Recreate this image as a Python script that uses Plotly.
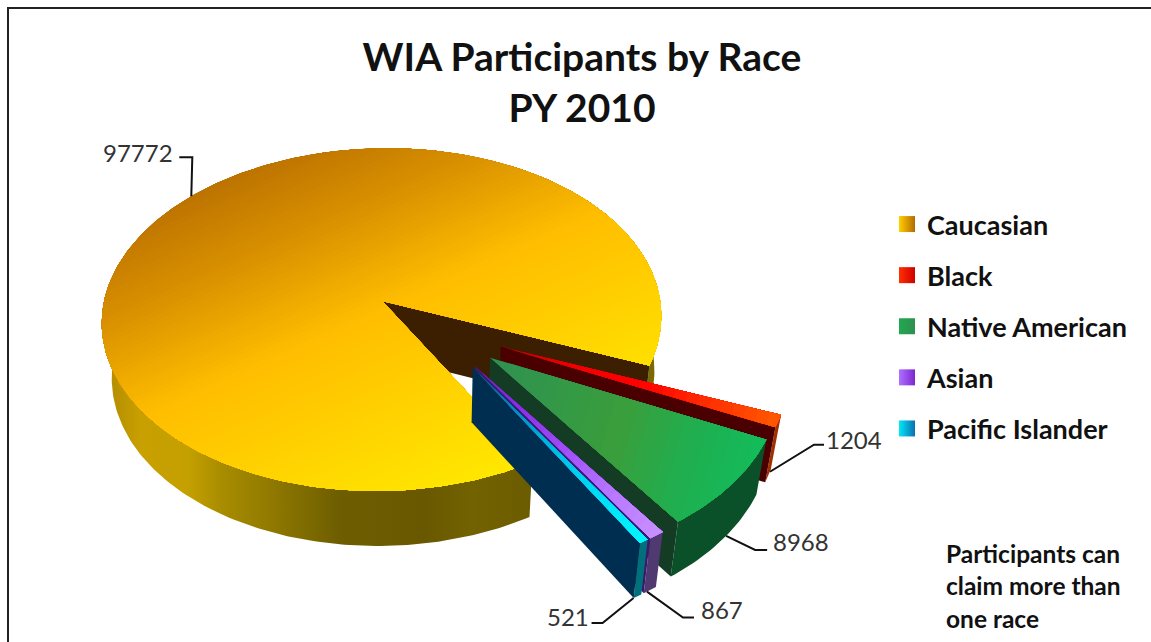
import math
import plotly.graph_objects as go

# ---- data ----
categories = ["Caucasian", "Black", "Native American", "Asian", "Pacific Islander"]
values = [97772, 1204, 8968, 867, 521]
title_lines = ["WIA Participants by Race", "PY 2010"]
note_lines = ["Participants can", "claim more than", "one race"]

# ---- appearance ----
W, H = 1151, 642
FONT = "Lato"
# projection of the tilted pie onto the page
X0, Y0, SX, SY, K = 435.0, 329.0, 283.0, 175.5, 0.11
DEPTH, TAPER = 55.0, 0.97
EXPLODE = 0.25
FIRST_ANGLE = 21.4   # where the second category starts, degrees clockwise from east
ORDER = [1, 2, 3, 4, 0]

top_stops = {
    0: ["#B46A00", "#D89000", "#FFBE00", "#FFD400", "#FFEA00"],
    1: ["#B00000", "#F00000", "#FF0000", "#FF3000", "#FF5A00"],
    2: ["#2F9050", "#339848", "#3A9E3A", "#20AE50", "#12BC5A"],
    3: ["#6A20C0", "#8A30E8", "#A050F8", "#B878FF", "#C890FF"],
    4: ["#0A5A90", "#0090C8", "#00C0E8", "#00E0F8", "#00F8FF"],
}
end_wall = {0: "#3C1E00", 1: "#4A0000", 2: "#143C24", 3: "#3A1A70", 4: "#002E50"}
outer_wall = {1: "#A03000", 2: "#0A5028", 3: "#503870", 4: "#00707A"}
# angle on the rim where a leader starts, elbow offset, tail offset, label offset from tail
leaders = {
    0: (221.5, (1, -39), (-13, 0), (-4, -5), "right"),
    1: (22.0, (44, -27), (10, 0), (0, -5), "left"),
    2: (39.0, (29, 14), (12, 0), (4, -8), "left"),
    3: (57.0, (36, 26), (11, 0), (5, -8), "left"),
    4: (59.5, (-31, 25), (-11, 0), (-1, -6), "right"),
}


def project(u, v, down=False):
    w = 1 - K * v
    x = X0 + SX * u / w
    y = Y0 + SY * v / w
    if down:
        x = X0 + (x - X0) * TAPER
        y = y + DEPTH
    return x, y


def hex_rgb(c):
    return tuple(int(c[i:i + 2], 16) for i in (1, 3, 5))


def mix(stops, t):
    t = max(0.0, min(1.0, t)) * (len(stops) - 1)
    i = min(int(t), len(stops) - 2)
    a, b = hex_rgb(stops[i]), hex_rgb(stops[i + 1])
    f = t - i
    return "rgb(%d,%d,%d)" % tuple(round(a[j] + (b[j] - a[j]) * f) for j in range(3))


def clip_ge(poly, ax, ay, d):
    out = []
    n = len(poly)
    for i in range(n):
        p, q = poly[i], poly[(i + 1) % n]
        dp = p[0] * ax + p[1] * ay - d
        dq = q[0] * ax + q[1] * ay - d
        if dp >= 0:
            out.append(p)
        if (dp >= 0) != (dq >= 0):
            s = dp / (dp - dq)
            out.append((p[0] + (q[0] - p[0]) * s, p[1] + (q[1] - p[1]) * s))
    return out


fig = go.Figure()


def add_pieces(pieces, color=None, gradient=None):
    xs, ys = [], []
    for poly in pieces:
        xs += [p[0] for p in poly] + [poly[0][0], None]
        ys += [p[1] for p in poly] + [poly[0][1], None]
    kw = dict(x=xs[:-1], y=ys[:-1], mode="lines", fill="toself", line=dict(width=0),
              hoverinfo="skip", showlegend=False)
    if gradient:
        kw["fillgradient"] = gradient
    else:
        kw["fillcolor"] = color
    fig.add_trace(go.Scatter(**kw))


def add_poly(poly, color=None, gradient=None):
    add_pieces([poly], color, gradient)


def add_banded(polys, stops, ax, ay, d0, d1, n):
    for k in range(n):
        d = d0 + (d1 - d0) * k / n
        parts = [clip_ge(poly, ax, ay, d) if k else poly for poly in polys]
        parts = [part for part in parts if len(part) >= 3]
        if parts:
            add_pieces(parts, color=mix(stops, (k + 0.5) / n))


total = sum(values)
spans = {i: values[i] / total * 360 for i in range(len(values))}
start = {}
a = FIRST_ANGLE
for i in ORDER:
    start[i] = a
    a += spans[i]


def world(i, deg, r=1.0):
    mid = math.radians(start[i] + spans[i] / 2)
    t = math.radians(deg)
    return EXPLODE * math.cos(mid) + r * math.cos(t), EXPLODE * math.sin(mid) + r * math.sin(t)


def arc(i, d0, d1, down=False, step=1.0):
    n = max(2, int(abs(d1 - d0) / step) + 1)
    return [project(*world(i, d0 + (d1 - d0) * k / n), down) for k in range(n + 1)]


def apex(i, down=False):
    return project(*world(i, 0, 0.0), down)


# main slice: outer walls, cut wall, top
i = 0
s, e = start[i], start[i] + spans[i]
wall_left = arc(i, s, 182) + arc(i, 182, s, True)
add_poly(wall_left, gradient=dict(type="horizontal", start=102, stop=532, colorscale=[
    [0.0, "#B08800"], [0.09, "#C8A000"], [0.2, "#C4A000"], [0.28, "#A88C00"],
    [0.4, "#8E7800"], [0.55, "#6E5E00"], [0.75, "#6A5800"], [0.86, "#736200"], [1.0, "#6B5C00"]]))
wall_right = arc(i, 352, e) + arc(i, e, 352, True)
add_poly(wall_right, color="#7A6A00")
add_poly([apex(i), project(*world(i, e)), project(*world(i, e), True), apex(i, True)], color=end_wall[i])
third = spans[i] / 3
sectors = [[apex(i)] + arc(i, s + k * third - (1 if k else 0), s + (k + 1) * third) for k in range(3)]
add_banded(sectors, top_stops[i], 0.41, 0.91, 230, 650, 90)

# exploded slices, far to near
for i in [1, 2, 3, 4]:
    s, e = start[i], start[i] + spans[i]
    add_poly(arc(i, s, e) + arc(i, e, s, True), color=outer_wall[i])
    add_poly([apex(i), project(*world(i, e)), project(*world(i, e), True), apex(i, True)], color=end_wall[i])
    ax_, ay_ = apex(i)
    c1 = project(*world(i, s))
    ux, uy = c1[0] - ax_, c1[1] - ay_
    L = math.hypot(ux, uy)
    ux, uy = ux / L, uy / L
    d0 = ax_ * ux + ay_ * uy
    add_banded([[apex(i)] + arc(i, s, e, step=0.5)], top_stops[i], ux, uy, d0, d0 + L, 24)

# leader lines and value labels
for i, (deg, elbow, tail_off, text_off, anchor) in leaders.items():
    p = project(*world(i, deg), i != 0)
    el = (p[0] + elbow[0], p[1] + elbow[1])
    tail = (el[0] + tail_off[0], el[1] + tail_off[1])
    fig.add_trace(go.Scatter(x=[p[0], el[0], tail[0]], y=[p[1], el[1], tail[1]], mode="lines",
                             line=dict(color="#111111", width=2), hoverinfo="skip", showlegend=False))
    fig.add_annotation(x=tail[0] + text_off[0], y=tail[1] + text_off[1], text=str(values[i]), showarrow=False,
                       xanchor=anchor, yanchor="middle",
                       font=dict(family=FONT, size=24, color="#333333"))

# legend
legend_fill = {0: ("#FFD000", "#B46A00"), 1: ("#FF3000", "#D00000"), 2: ("#20A850", "#2F9050"),
               3: ("#B070FF", "#7A28D0"), 4: ("#00E8F8", "#0A70B0")}
for i, name in enumerate(categories):
    c1, c2 = legend_fill[i]
    fig.add_trace(go.Scatter(x=[None], y=[None], mode="markers", name=name, legendgroup=name,
                             marker=dict(symbol="square", size=16, color=c1,
                                         gradient=dict(type="horizontal", color=c2), line=dict(width=0))))

# notes
for k, line in enumerate(note_lines):
    fig.add_annotation(x=944, y=553 + k * 32.5, text=line, showarrow=False, xanchor="left", yanchor="middle",
                       font=dict(family=FONT, size=24.5, color="#111111", weight="bold"))

# chart frame
fig.add_shape(type="rect", xref="x", yref="y", x0=8, y0=8, x1=1200, y1=700,
              line=dict(color="#222222", width=2), layer="below")

fig.update_layout(
    width=W, height=H, autosize=False,
    margin=dict(l=0, r=0, t=0, b=0),
    paper_bgcolor="white", plot_bgcolor="white",
    title=dict(text="<br>".join(title_lines), x=582 / W, xanchor="center", y=1 - 71 / H, yanchor="top",
               font=dict(family=FONT, size=39, color="#111111", weight="bold")),
    xaxis=dict(range=[0, W], visible=False, fixedrange=True),
    yaxis=dict(range=[H, 0], visible=False, fixedrange=True),
    legend=dict(x=887 / W, y=1 - 200 / H, xanchor="left", yanchor="top", tracegroupgap=13,
                bgcolor="rgba(0,0,0,0)", itemwidth=30,
                font=dict(family=FONT, size=27, color="#111111", weight="bold")),
    hovermode=False,
)
fig.write_html("out.html", post_script="document.body.style.margin='0';",
               config=dict(displayModeBar=False))
